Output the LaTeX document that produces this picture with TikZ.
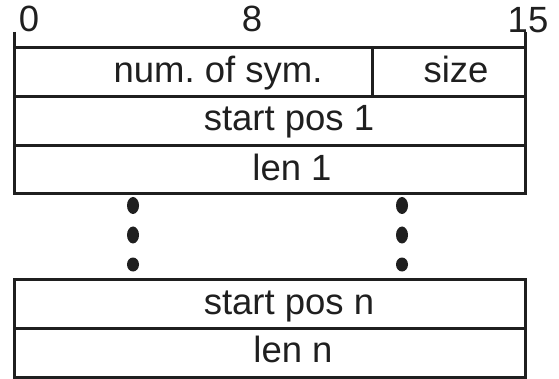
\documentclass[tikz,border=0pt]{standalone}
\usepackage{fontspec}
\setmainfont{Liberation Sans}
\frenchspacing
\begin{document}
\begin{tikzpicture}[x=1pt,y=-1pt,
  rule/.style={line width=3pt,draw=black!88},
  lbl/.style={font=\fontsize{36.5}{40}\selectfont,text=black!88,anchor=base,inner sep=0pt},
  dotmark/.style={fill=black!88}]
\useasboundingbox (0,0) rectangle (559,379);
% bit-position scale
\coordinate (t0) at (14,32);
\coordinate (t15) at (525,32);
\node[lbl] (n0) at (29,32) {0};
\node[lbl] (n8) at (252,32) {8};
\node[lbl] (n15) at (528,33) {15};
% first block
\draw[rule] (14,48) rectangle (525,194);
\draw[rule] (14,97) -- (525,97);
\draw[rule] (14,146) -- (525,146);
\draw[rule] (372,48) -- (372,97);
\draw[rule] (t0) -- (14,48);
\draw[rule] (t15) -- (525,48);
\node[lbl] (nsym) at (218,83) {num. of sym.};
\node[lbl] (size) at (456,83) {size};
\node[lbl] (sp1) at (289,131) {start pos 1};
\node[lbl] (len1) at (292,181) {len 1};
% ellipsis between the blocks
\foreach \x in {133,402}{
  \fill[dotmark] (\x,205.5) ellipse (6 and 8.5);
  \fill[dotmark] (\x,235) ellipse (6 and 8.5);
  \fill[dotmark] (\x,264.5) ellipse (6 and 7);
}
% last block
\draw[rule] (14,279) rectangle (525,377);
\draw[rule] (14,328) -- (525,328);
\node[lbl] (spn) at (289,314) {start pos n};
\node[lbl] (lenn) at (293,362) {len n};
\end{tikzpicture}
\end{document}
